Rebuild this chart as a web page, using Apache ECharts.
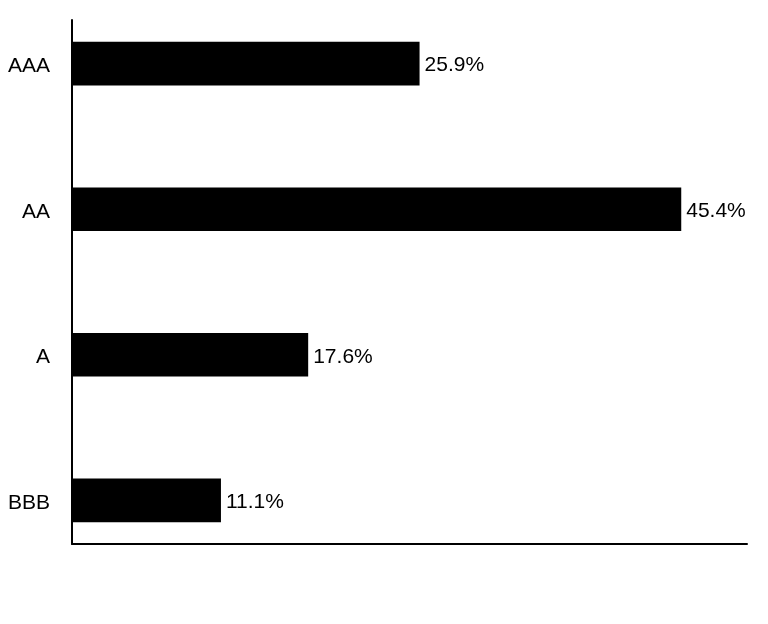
<!DOCTYPE html>
<html>
<head>
<meta charset="utf-8">
<script src="https://cdn.jsdelivr.net/npm/echarts@6/dist/echarts.min.js"></script>
<style>
html,body{margin:0;padding:0;background:#fff;}
#chart{width:768px;height:624px;}
</style>
</head>
<body>
<div id="chart"></div>
<script>
const categories = ['AAA', 'AA', 'A', 'BBB'];
const values = [25.9, 45.4, 17.6, 11.1];
const labelSuffix = '%';

const n = categories.length;
const FONT = 'Liberation Sans, Arial, Helvetica, sans-serif';
const seriesData = categories.map((c, i) => [values[i], n - 1 - i]);

const chart = echarts.init(document.getElementById('chart'), null, {renderer: 'canvas'});
chart.setOption({
  animation: false,
  backgroundColor: '#fff',
  grid: {left: 72, right: 21, top: 20, bottom: 80, containLabel: false},
  xAxis: {
    type: 'value', min: 0, max: 50.3,
    axisLine: {show: true, onZero: false, lineStyle: {color: '#000', width: 2}},
    axisTick: {show: false},
    axisLabel: {show: false},
    splitLine: {show: false}
  },
  yAxis: {
    type: 'value', min: -0.3, max: 3.3,
    axisLine: {show: true, onZero: false, lineStyle: {color: '#000', width: 2}},
    axisTick: {show: false},
    splitLine: {show: false},
    axisLabel: {
      customValues: categories.map((c, i) => n - 1 - i),
      formatter: v => categories[n - 1 - Math.round(v)],
      color: '#000', fontSize: 21, fontFamily: FONT, margin: 22,
      verticalAlign: 'top', lineHeight: 21, padding: [-8, 0, 0, 0]
    }
  },
  series: [{
    type: 'custom',
    data: seriesData,
    renderItem: function (params, api) {
      const x = api.value(0), y = api.value(1);
      const start = api.coord([0, y]);
      const end = api.coord([x, y]);
      const h = api.size([0, 0.3])[1];
      return {
        type: 'group',
        children: [
          {type: 'rect', shape: {x: start[0], y: start[1] - h / 2, width: end[0] - start[0], height: h}, style: {fill: '#000'}},
          {type: 'text', style: {text: x.toFixed(1) + labelSuffix, x: end[0] + 5, y: end[1] + 2, fill: '#000', fontSize: 21, fontFamily: FONT, align: 'left', verticalAlign: 'middle'}}
        ]
      };
    }
  }]
});
</script>
</body>
</html>
